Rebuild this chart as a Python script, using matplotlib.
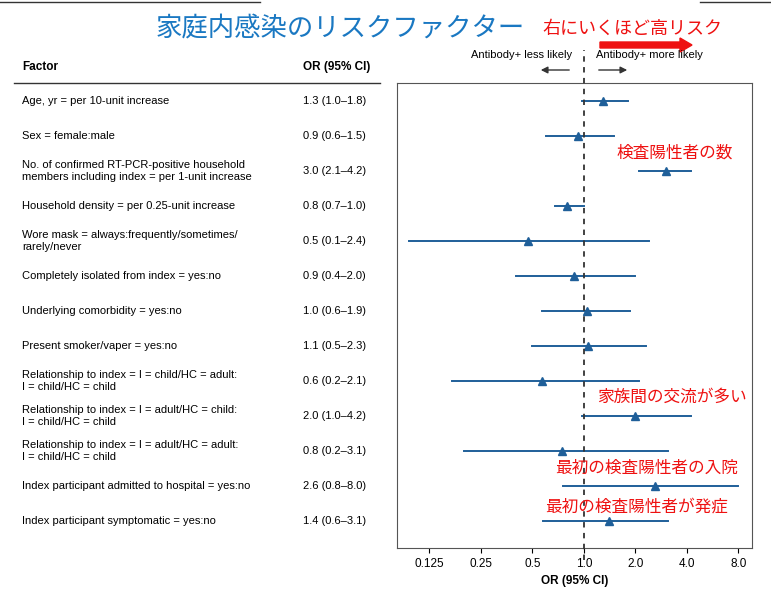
import numpy as np
import matplotlib.pyplot as plt
from matplotlib.patches import FancyArrow

plt.rcParams['font.family'] = ['Liberation Sans', 'Noto Sans CJK JP', 'DejaVu Sans']

factors = [
    "Age, yr = per 10-unit increase",
    "Sex = female:male",
    "No. of confirmed RT-PCR-positive household\nmembers including index = per 1-unit increase",
    "Household density = per 0.25-unit increase",
    "Wore mask = always:frequently/sometimes/\nrarely/never",
    "Completely isolated from index = yes:no",
    "Underlying comorbidity = yes:no",
    "Present smoker/vaper = yes:no",
    "Relationship to index = I = child/HC = adult:\nI = child/HC = child",
    "Relationship to index = I = adult/HC = child:\nI = child/HC = child",
    "Relationship to index = I = adult/HC = adult:\nI = child/HC = child",
    "Index participant admitted to hospital = yes:no",
    "Index participant symptomatic = yes:no",
]
or_text = ["1.3 (1.0\u20131.8)", "0.9 (0.6\u20131.5)", "3.0 (2.1\u20134.2)", "0.8 (0.7\u20131.0)",
           "0.5 (0.1\u20132.4)", "0.9 (0.4\u20132.0)", "1.0 (0.6\u20131.9)", "1.1 (0.5\u20132.3)",
           "0.6 (0.2\u20132.1)", "2.0 (1.0\u20134.2)", "0.8 (0.2\u20133.1)", "2.6 (0.8\u20138.0)",
           "1.4 (0.6\u20133.1)"]
est = [1.3, 0.92, 3.0, 0.8, 0.47, 0.88, 1.04, 1.06, 0.57, 2.0, 0.75, 2.6, 1.4]
lo = [0.97, 0.6, 2.1, 0.68, 0.095, 0.4, 0.57, 0.5, 0.17, 0.97, 0.2, 0.76, 0.58]
hi = [1.8, 1.5, 4.2, 1.0, 2.4, 2.0, 1.85, 2.3, 2.1, 4.2, 3.1, 8.0, 3.1]
ticks = [0.125, 0.25, 0.5, 1.0, 2.0, 4.0, 8.0]

W, H = 771, 614
fig = plt.figure(figsize=(W / 100, H / 100), dpi=100)

def px(x, y):
    return x / W, 1 - y / H

# axes: 397..752 x, 83..548 y
x0, y0 = px(397, 548)
ax = fig.add_axes([x0, y0, (752 - 397) / W, (548 - 83) / H])
ax.set_xscale('log', base=2)
ax.set_xlim(0.081, 9.6)
n = len(est)
ax.set_ylim(n - 1 + 27 / 35, -18 / 35)
blue = '#1f5f99'
for i in range(n):
    ax.plot([lo[i], hi[i]], [i, i], color=blue, lw=1.4)
    ax.plot(est[i], i, marker='^', color=blue, ms=6)
ax.set_xticks(ticks)
ax.set_xticklabels([str(t) for t in ticks], fontsize=8.5)
ax.minorticks_off()
ax.set_yticks([])
for s in ax.spines.values():
    s.set_color('#555555')
ax.set_xlabel('OR (95% CI)', fontsize=8.5, fontweight='bold')

# dashed reference line extending above axes
fx = px(584, 0)[0]
fig.add_artist(plt.Line2D([fx, fx], [px(0, 560)[1], px(0, 50)[1]], color='#333333',
                          ls=(0, (3, 3)), lw=1.3))

# header
fig.text(*px(22, 67), 'Factor', fontsize=8.5, fontweight='bold', va='center')
fig.text(*px(303, 67), 'OR (95% CI)', fontsize=8.5, fontweight='bold', va='center')
fig.add_artist(plt.Line2D([px(14, 0)[0], px(380, 0)[0]], [px(0, 83)[1]] * 2, color='#333333', lw=1))
fig.add_artist(plt.Line2D([px(0, 0)[0], px(260, 0)[0]], [px(0, 2)[1]] * 2, color='#333333', lw=1))
fig.add_artist(plt.Line2D([px(700, 0)[0], px(771, 0)[0]], [px(0, 2)[1]] * 2, color='#333333', lw=1))

for i in range(n):
    yy = 101 + 35 * i
    fig.text(*px(22, yy), factors[i], fontsize=8, va='center', linespacing=1.3)
    fig.text(*px(303, yy), or_text[i], fontsize=8, va='center')

fig.text(*px(572, 55), 'Antibody+ less likely', fontsize=8, ha='right', va='center')
fig.text(*px(596, 55), 'Antibody+ more likely', fontsize=8, ha='left', va='center')
ax.annotate('', xy=px(538, 70), xytext=px(572, 70), xycoords='figure fraction',
            arrowprops=dict(arrowstyle='-|>', color='#333333', lw=1))
ax.annotate('', xy=px(630, 70), xytext=px(596, 70), xycoords='figure fraction',
            arrowprops=dict(arrowstyle='-|>', color='#333333', lw=1))

# Japanese annotations
fig.text(*px(340, 28), '家庭内感染のリスクファクター', fontsize=19, color='#1a78c2',
         ha='center', va='center')
red = '#ee1111'
fig.text(*px(632, 29), '右にいくほど高リスク', fontsize=13, color=red, ha='center', va='center')
fig.add_artist(FancyArrow(px(600, 45)[0], px(600, 45)[1], 92 / W, 0,
                          width=6 / H, head_width=14 / H, head_length=12 / W,
                          length_includes_head=True, color=red,
                          transform=fig.transFigure))
fig.text(*px(675, 153), '検査陽性者の数', fontsize=12, color=red, ha='center', va='center')
fig.text(*px(672, 397), '家族間の交流が多い', fontsize=12, color=red, ha='center', va='center')
fig.text(*px(647, 468), '最初の検査陽性者の入院', fontsize=12, color=red, ha='center', va='center')
fig.text(*px(637, 507), '最初の検査陽性者が発症', fontsize=12, color=red, ha='center', va='center')

fig.savefig('out.png', dpi=100)
